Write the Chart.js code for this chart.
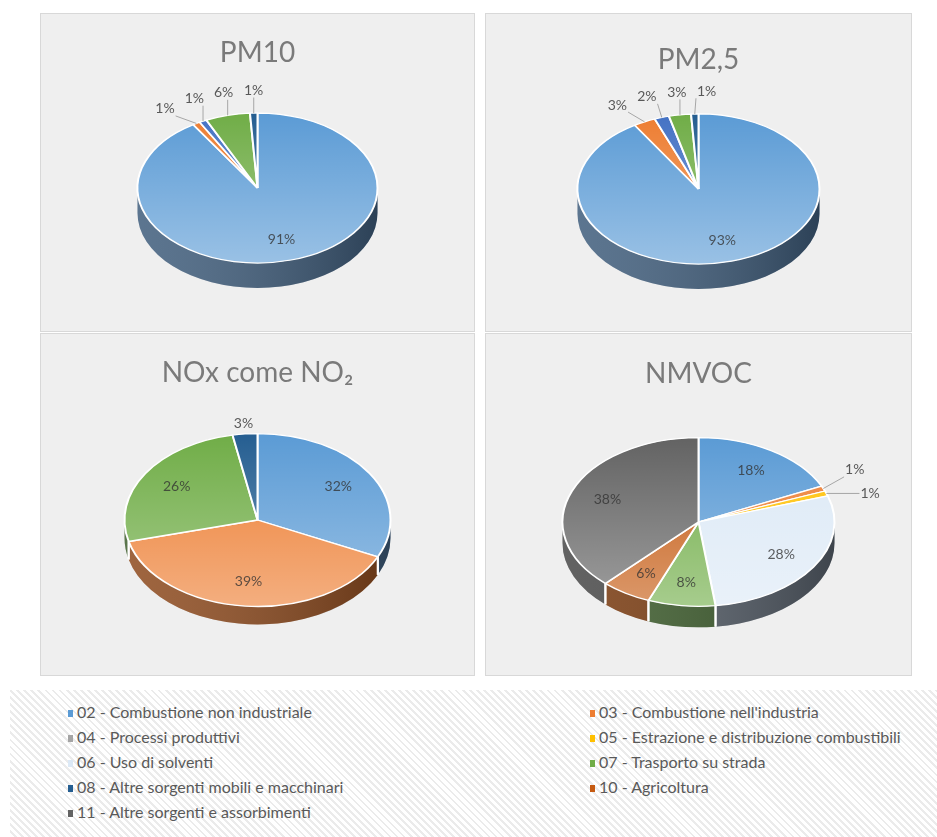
<!DOCTYPE html>
<html>
<head>
<meta charset="utf-8">
<script src="https://cdn.jsdelivr.net/npm/chart.js@4/dist/chart.umd.min.js"></script>
<style>
  body { margin: 0; background: #fff; width: 937px; height: 837px; position: relative; overflow: hidden; font-family: Lato, "Open Sans", sans-serif; }
  .panel { position: absolute; background: #efefef; box-shadow: inset 0 0 0 1px #d8d8d8; }
  .panel canvas { position: absolute; left: 0; top: 0; }
  #legend { position: absolute; left: 10px; top: 690px; width: 927px; height: 147px;
    background: repeating-linear-gradient(45deg, #fff 0 3px, #ebebeb 3px 5px); }
  .item { position: absolute; font-size: 16px; color: #595959; white-space: nowrap; line-height: 18px; }
  .item i { display: inline-block; width: 5px; height: 7px; margin-right: 4px; vertical-align: 1px; }
</style>
</head>
<body>
<div class="panel" style="left:40px;top:13px;width:435px;height:319px"><canvas id="c1" width="435" height="319"></canvas></div>
<div class="panel" style="left:485px;top:13px;width:427px;height:319px"><canvas id="c2" width="427" height="319"></canvas></div>
<div class="panel" style="left:40px;top:333px;width:435px;height:343px"><canvas id="c3" width="435" height="343"></canvas></div>
<div class="panel" style="left:485px;top:333px;width:427px;height:343px"><canvas id="c4" width="427" height="343"></canvas></div>
<div id="legend"></div>
<script>
// categorie (ordine legenda = ordine fette, senso orario da ore 12)
const categories = [
  "02 - Combustione non industriale",
  "03 - Combustione nell'industria",
  "04 - Processi produttivi",
  "05 - Estrazione e distribuzione combustibili",
  "06 - Uso di solventi",
  "07 - Trasporto su strada",
  "08 - Altre sorgenti mobili e macchinari",
  "10 - Agricoltura",
  "11 - Altre sorgenti e assorbimenti",
];
const topColors  = ["#5b9bd5", "#ed7d31", "#a5a5a5", "#ffc000", "#dce9f6", "#70ad47", "#255e91", "#c55a11", "#636363"];
const sideColors = ["#3f5d7c", "#8e4a1d", "#5e5e5e", "#9c7600", "#59626d", "#3d5d2c", "#1b3a5a", "#7a3a0e", "#474747"];
// nei grafici PM la fetta 06 ha il colore Excel di default
const pmColors   = ["#5b9bd5", "#ed7d31", "#a5a5a5", "#ffc000", "#4472c4", "#70ad47", "#255e91", "#c55a11", "#636363"];

// valori % per inquinante
const titles = ["PM10", "PM2,5", "NOx come NO\u2082", "NMVOC"];
const pm10  = [91, 1, 0, 0, 1, 6, 1, 0, 0];
const pm25  = [93, 3, 0, 0, 2, 3, 1, 0, 0];
const nox   = [32, 39, 0, 0, 0, 26, 3, 0, 0];
const nmvoc = [18, 1, 0, 1, 28, 8, 0, 6, 38];

// layout dei pannelli (coordinate nel pannello)
const panels = [
  { id: "c1", values: pm10,  colors: pmColors,  title: titles[0], titleY: 40, cy: 175, r: 120, k: 0.625, depth: 25, outside: 7, outF: 1.3 },
  { id: "c2", values: pm25,  colors: pmColors,  title: titles[1], titleY: 47, cy: 176, r: 121, k: 0.62,  depth: 25, outside: 7, outF: 1.3 },
  { id: "c3", values: nox,   colors: topColors, title: titles[2], titleY: 40, cy: 187, r: 133, k: 0.65,  depth: 18, outside: 5, outF: 1.12 },
  { id: "c4", values: nmvoc, colors: topColors, title: titles[3], titleY: 41, cy: 189, r: 136, k: 0.62,  depth: 21, outside: 5, outF: 1.3 },
];

const TITLE_SIZE = 28, TITLE_LH = 1.2;

// pie "3D": pareti laterali + faccia superiore schiacciata
const pie3d = {
  id: "pie3d",
  beforeDatasetsDraw(chart, _a, o) {
    const arcs = chart.getDatasetMeta(0).data;
    const { x: cx, y: cy, outerRadius: r } = arcs[0];
    const ctx = chart.ctx, k = o.k, d = o.depth;
    ctx.save();
    arcs.forEach((a, i) => {
      const s = Math.max(a.startAngle, 0), e = Math.min(a.endAngle, Math.PI);
      if (e - s < 1e-4) return;
      ctx.beginPath();
      ctx.ellipse(cx, cy, r, r * k, 0, s, e);
      ctx.ellipse(cx, cy + d, r, r * k, 0, e, s, true);
      ctx.closePath();
      ctx.fillStyle = sideColors[i];
      ctx.fill();
    });
    // ombreggiatura laterale
    ctx.beginPath();
    ctx.ellipse(cx, cy, r, r * k, 0, 0, Math.PI);
    ctx.ellipse(cx, cy + d, r, r * k, 0, Math.PI, 0, true);
    ctx.closePath();
    const g = ctx.createLinearGradient(cx - r, 0, cx + r, 0);
    g.addColorStop(0, "rgba(255,255,255,0.15)");
    g.addColorStop(1, "rgba(0,0,0,0.3)");
    ctx.fillStyle = g;
    ctx.fill();
    // separatori verticali bianchi
    ctx.strokeStyle = "#fff";
    ctx.lineWidth = 2;
    arcs.forEach((a) => {
      if (a.endAngle - a.startAngle < 1e-4) return;
      for (const t of [a.startAngle, a.endAngle]) {
        if (t > 0.01 && t < Math.PI - 0.01) {
          const x = cx + Math.cos(t) * r, y = cy + Math.sin(t) * r * k;
          ctx.beginPath(); ctx.moveTo(x, y); ctx.lineTo(x, y + d); ctx.stroke();
        }
      }
    });
    ctx.restore();
    ctx.save();
    ctx.translate(cx, cy); ctx.scale(1, k); ctx.translate(-cx, -cy);
  },
  afterDatasetsDraw(chart, _a, o) {
    const arcs = chart.getDatasetMeta(0).data;
    const { x: cx, y: cy, outerRadius: r } = arcs[0];
    const ctx = chart.ctx, k = o.k, d = o.depth;
    // luce sulla faccia superiore
    ctx.beginPath();
    ctx.arc(cx, cy, r, 0, Math.PI * 2);
    const g = ctx.createLinearGradient(0, cy - r, 0, cy + r);
    g.addColorStop(0, "rgba(255,255,255,0)");
    g.addColorStop(1, "rgba(255,255,255,0.38)");
    ctx.fillStyle = g;
    ctx.fill();
    ctx.restore();

    // etichette
    const vals = chart.data.datasets[0].data;
    ctx.save();
    ctx.font = "14px Lato, sans-serif";
    ctx.textAlign = "center";
    ctx.textBaseline = "middle";
    const outs = [];
    arcs.forEach((a, i) => {
      const v = vals[i];
      if (!v) return;
      const mid = (a.startAngle + a.endAngle) / 2;
      const c = Math.cos(mid), s = Math.sin(mid);
      const txt = v + "%";
      const w = ctx.measureText(txt).width, h = 14;
      if (v < o.outside) {
        const f = o.outF;
        let tx = -s * r, ty = c * r * k;
        const n = Math.hypot(tx, ty);
        outs.push({ txt, w, h, tx: tx / n, ty: ty / n,
          x: cx + c * r * f, y: cy + s * r * k * f + (s > 0 ? d : 0),
          ex: cx + c * r, ey: cy + s * r * k });
      } else {
        ctx.fillStyle = "rgba(50,50,50,0.78)";
        ctx.fillText(txt, cx + c * r * 0.72, cy + s * r * k * 0.72);
      }
    });
    // evita sovrapposizioni: allontana le coppie vicine lungo la tangente
    const clash = (p, q) => Math.abs(p.x - q.x) < (p.w + q.w) / 2 + 10 && Math.abs(p.y - q.y) < (p.h + q.h) / 2 + 10;
    for (let it = 0; it < 200; it++) {
      let moved = false;
      for (let i = 1; i < outs.length; i++) {
        const p = outs[i - 1], q = outs[i];
        if (clash(p, q)) {
          p.x -= p.tx * 0.5; p.y -= p.ty * 0.5;
          q.x += q.tx * 0.5; q.y += q.ty * 0.5;
          moved = true;
        }
      }
      if (!moved) break;
    }
    for (const q of outs) {
      const ax = Math.min(Math.max(q.ex, q.x - q.w / 2 - 1), q.x + q.w / 2 + 1);
      const ay = Math.min(Math.max(q.ey, q.y - q.h / 2), q.y + q.h / 2);
      if (Math.hypot(ax - q.ex, ay - q.ey) > 12) {
        ctx.strokeStyle = "#a6a6a6";
        ctx.lineWidth = 1;
        ctx.beginPath(); ctx.moveTo(q.ex, q.ey); ctx.lineTo(ax, ay); ctx.stroke();
      }
      ctx.fillStyle = "#595959";
      ctx.fillText(q.txt, q.x, q.y);
    }
    ctx.restore();
  },
};

for (const p of panels) {
  const canvas = document.getElementById(p.id);
  const H = canvas.height;
  const padTop = p.titleY - TITLE_SIZE * TITLE_LH / 2;
  const chartTop = padTop + TITLE_SIZE * TITLE_LH;
  const padBottom = chartTop + H - 2 * p.cy;
  new Chart(canvas, {
    type: "pie",
    data: {
      labels: categories,
      datasets: [{
        data: p.values,
        backgroundColor: p.colors,
        borderColor: "#ffffff",
        borderWidth: (c) => (c.raw ? 2 : 0),
      }],
    },
    options: {
      responsive: false,
      animation: false,
      radius: p.r,
      layout: { padding: { top: 0, bottom: padBottom, left: 0, right: 0 } },
      plugins: {
        legend: { display: false },
        tooltip: { enabled: false },
        title: {
          display: true, text: p.title, color: "#7a7a7a",
          font: { family: "Lato, sans-serif", size: TITLE_SIZE, weight: "normal", lineHeight: TITLE_LH },
          padding: { top: padTop, bottom: 0 },
        },
        pie3d: { k: p.k, depth: p.depth, outside: p.outside, outF: p.outF },
      },
    },
    plugins: [pie3d],
  });
}

// legenda comune, due colonne
const legend = document.getElementById("legend");
categories.forEach((name, i) => {
  const el = document.createElement("div");
  el.className = "item";
  el.style.left = (i % 2 ? 580 : 58) + "px";
  el.style.top = (13 + Math.floor(i / 2) * 25) + "px";
  el.innerHTML = `<i style="background:${topColors[i]}"></i>`;
  el.appendChild(document.createTextNode(name));
  legend.appendChild(el);
});
</script>
</body>
</html>
